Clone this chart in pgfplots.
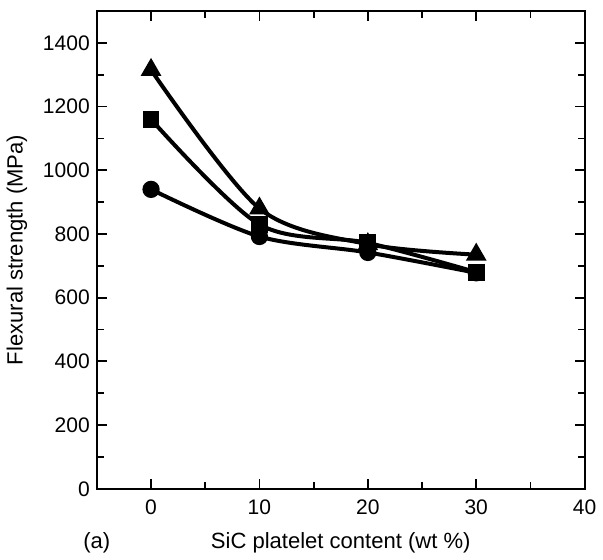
\documentclass[border=0pt]{standalone}
\usepackage{pgfplots}
\pgfplotsset{compat=1.18}
\usepackage{fontspec}
\setmainfont{Liberation Sans}

\begin{document}
\begin{tikzpicture}
\begin{axis}[
    scale only axis,
    width=243.5pt,
    height=238.5pt,
    xmin=-5, xmax=40,
    ymin=0, ymax=1500,
    xtick={0,10,...,40},
    ytick={0,200,...,1400},
    minor x tick num=1,
    minor y tick num=1,
    tick align=inside,
    major tick length=5pt,
    minor tick length=3.5pt,
    every tick/.style={black, line width=0.9pt},
    axis line style={line width=1pt},
    tick label style={font=\fontsize{10.5}{12}\selectfont},
    xticklabel style={yshift=-2pt},
    label style={font=\fontsize{11}{13}\selectfont},
    xlabel style={name=xlab, yshift=-2pt},
    ylabel style={yshift=1pt},
    /pgf/number format/assume math mode=true,
    /pgf/number format/1000 sep={},
    xlabel={SiC platelet content (wt \%)},
    ylabel={Flexural strength (MPa)},
    every axis plot/.append style={black, line width=2pt, smooth},
]
% triangles
\addplot[mark=triangle*, mark size=4pt] coordinates {(0,1315) (10,880) (20,768) (30,735)};
% squares
\addplot[mark=square*, mark size=3.2pt] coordinates {(0,1160) (10,830) (20,772) (30,680)};
% circles
\addplot[mark=*, mark size=3.3pt] coordinates {(0,940) (10,792) (20,742) (30,678)};
\end{axis}
\node[anchor=base, font=\fontsize{11}{13}\selectfont] at (current axis.south west |- xlab.base) {(a)};
\path (current axis.north east) ++(0pt,5.5pt) coordinate (pad);
\end{tikzpicture}
\end{document}
